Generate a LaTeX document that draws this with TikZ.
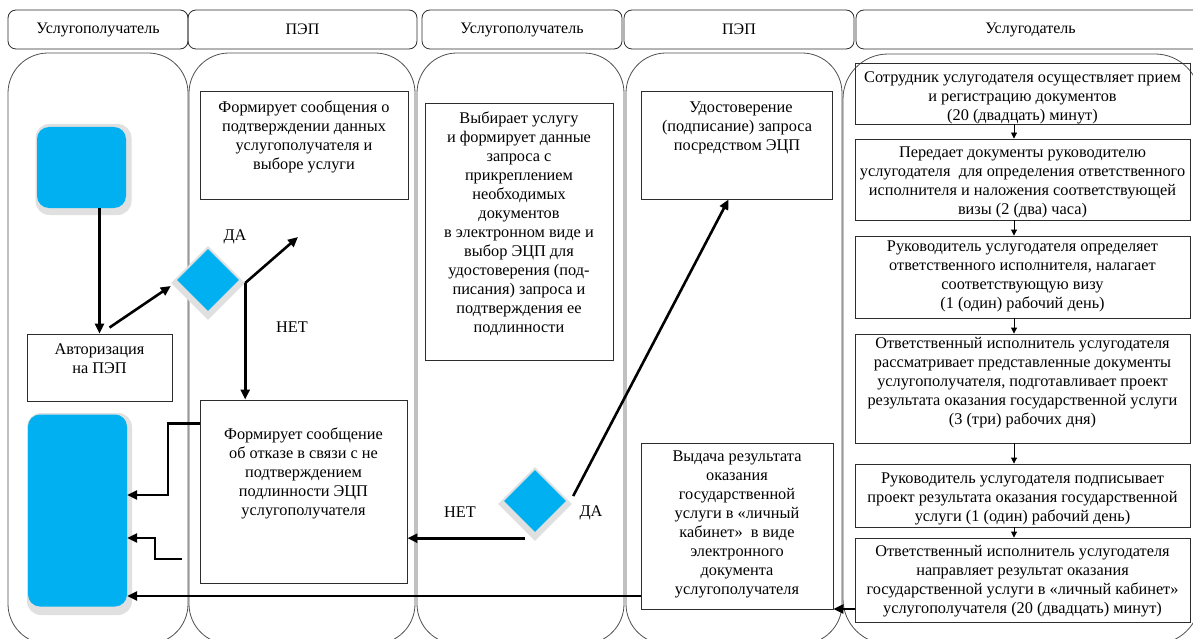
\documentclass[tikz,border=0pt]{standalone}
\usepackage{fontspec}
\setmainfont{Liberation Serif}
\usetikzlibrary{arrows.meta,shapes.geometric}
\definecolor{bluefill}{RGB}{0,176,240}
\definecolor{rimgray}{RGB}{224,224,224}
\definecolor{lanegray}{RGB}{80,80,80}
\definecolor{boxgray}{RGB}{45,45,45}
\tikzset{
  txt/.style={inner sep=0pt, align=center, font=\fontsize{16.3}{19}\selectfont},
  hdr/.style={draw=boxgray, line width=0.8pt, rounded corners=8pt, inner sep=0pt, font=\fontsize{16}{19}\selectfont},
  lane/.style={draw=lanegray, line width=0.8pt, rounded corners=40pt},
  box/.style={draw=boxgray, line width=0.9pt, inner sep=0pt},
  blueblk/.style={fill=bluefill, rounded corners=12pt, inner sep=0pt},
  rimblk/.style={fill=rimgray, rounded corners=14pt, inner sep=0pt},
  dia/.style={diamond, aspect=1, inner sep=0pt},
  thk/.style={line width=2.6pt, -{Triangle[length=10pt,width=9pt]}},
  thn/.style={line width=0.9pt, -{Triangle[length=6pt,width=6pt]}}
}
\begin{document}
\begin{tikzpicture}[x=1pt,y=-1pt]
\useasboundingbox (0,0) rectangle (1193,639);
\clip (0,0) rectangle (1193,639);
\fill[white] (0,0) rectangle (1193,639);

% headers
\node[hdr, minimum width=180pt, minimum height=39pt] (h1) at (98,29.5) {Услугополучатель};
\node[hdr, minimum width=229pt, minimum height=39pt] (h2) at (302.5,29.5) {ПЭП};
\node[hdr, minimum width=200pt, minimum height=39pt] (h3) at (522,29.5) {Услугополучатель};
\node[hdr, minimum width=230pt, minimum height=39pt] (h4) at (739,29.5) {ПЭП};
\node[hdr, minimum width=349pt, minimum height=39pt] (h5) at (1030.5,29.5) {Услугодатель};

% lanes
\draw[lane] (8,53) rectangle (188,644);
\draw[lane] (189,53) rectangle (415,644);
\draw[lane] (417,53) rectangle (624,644);
\draw[lane] (626,53) rectangle (842,644);
\draw[lane, rounded corners=45pt] (843,54) rectangle (1200,644);

% blue terminators
\node[rimblk, minimum width=96pt, minimum height=91pt] (starts) at (83.5,169.5) {};
\node[blueblk, minimum width=89pt, minimum height=81pt] (start) at (81.5,167.5) {};
\node[rimblk, minimum width=105pt, minimum height=202pt] (ends) at (79.5,514) {};
\node[blueblk, minimum width=99pt, minimum height=192pt] (end) at (77.5,510.5) {};

% diamonds
\node[dia, fill=rimgray, minimum size=74pt] (d1s) at (208,283) {};
\node[dia, fill=bluefill, minimum size=62pt] (d1) at (208,280) {};
\node[dia, fill=rimgray, minimum size=74pt] (d2s) at (535,504) {};
\node[dia, fill=bluefill, minimum size=62pt] (d2) at (535,501) {};

% boxes
\node[box, minimum width=145pt, minimum height=67pt] (auth) at (99.5,367.5) {};
\node[box, minimum width=208pt, minimum height=108pt] (b2) at (304,145) {};
\node[box, minimum width=207pt, minimum height=183pt] (b3) at (303.5,491.5) {};
\node[box, minimum width=188pt, minimum height=257pt] (b4) at (519,231.5) {};
\node[box, minimum width=191pt, minimum height=108pt] (b5) at (736.5,145) {};
\node[box, minimum width=192pt, minimum height=166pt] (b6) at (737,526) {};
\node[box, minimum width=335pt, minimum height=61pt] (r1) at (1022.5,93.5) {};
\node[box, minimum width=335pt, minimum height=81pt] (r2) at (1022.5,179.5) {};
\node[box, minimum width=335pt, minimum height=82pt] (r3) at (1022.5,277) {};
\node[box, minimum width=335pt, minimum height=109pt] (r4) at (1022.5,388.5) {};
\node[box, minimum width=335pt, minimum height=63pt] (r5) at (1022.5,495.5) {};
\node[box, minimum width=335pt, minimum height=84pt] (r6) at (1022.5,580) {};

% texts
\node[txt] (tauth) at (99.5,359) {Авторизация\\на ПЭП};
\node[txt] (t2) at (304,136.5) {Формирует сообщения о\\подтверждении данных\\услугополучателя и\\выборе услуги};
\node[txt] (t3) at (303.5,473) {Формирует сообщение\\об отказе в связи с не\\подтверждением\\подлинности ЭЦП\\услугополучателя};
\node[txt] (t4) at (519,223.5) {Выбирает услугу\\и формирует данные\\запроса с\\прикреплением\\необходимых\\документов\\в электронном виде и\\выбор ЭЦП для\\удостоверения (под-\\писания) запроса и\\подтверждения ее\\подлинности};
\node[txt] (t5) at (737,127.5) {\hspace{8pt}Удостоверение\\(подписание) запроса\\посредством ЭЦП};
\node[txt] (t6) at (737,524.5) {Выдача результата\\оказания\\государственной\\услуги в «личный\\кабинет»\ \ в виде\\электронного\\документа\\услугополучателя};
\node[txt] (tr1) at (1022.5,97.5) {Сотрудник услугодателя осуществляет прием\\и регистрацию документов\\(20 (двадцать) минут)};
\node[txt] (tr2) at (1022.5,182) {Передает документы руководителю\\услугодателя\ \ для определения ответственного\\исполнителя и наложения соответствующей\\визы (2 (два) часа)};
\node[txt] (tr3) at (1022.5,276) {Руководитель услугодателя определяет\\ответственного исполнителя, налагает\\соответствующую визу\\(1 (один) рабочий день)};
\node[txt] (tr4) at (1022.5,383) {Ответственный исполнитель услугодателя\\рассматривает представленные документы\\услугополучателя, подготавливает проект\\результата оказания государственной услуги\\(3 (три) рабочих дня)};
\node[txt] (tr5) at (1022.5,499) {Руководитель услугодателя подписывает\\проект результата оказания государственной\\услуги (1 (один) рабочий день)};
\node[txt] (tr6) at (1022.5,581.5) {Ответственный исполнитель услугодателя\\направляет результат оказания\\государственной услуги в «личный кабинет»\\услугополучателя (20 (двадцать) минут)};

% labels
\node[txt] (yes1) at (235,237) {ДА};
\node[txt] (no1) at (292,327) {НЕТ};
\node[txt] (no2) at (460,512) {НЕТ};
\node[txt] (yes2) at (591,513) {ДА};

% helper coordinates
\coordinate (yesend1) at (298,237);
\coordinate (p5) at (168,495);
\coordinate (free6) at (182,559);
\coordinate (p6) at (155,538);
\coordinate (row7) at (0,596);
\coordinate (row10) at (0,609);
\coordinate (d2out) at ([xshift=-10pt,yshift=3pt]d2s.south);
\coordinate (d2up) at ([xshift=1pt,yshift=8pt]d2s.east);
\coordinate (axis) at (1014,0);

% thick connectors
\draw[thk] (start.south -| auth.north) -- (auth.north);
\draw[thk] ([xshift=10pt,yshift=6pt]auth.north) -- ([yshift=-3pt]d1s.west);
\draw[thk] (d1s.east) -- (yesend1);
\draw[thk] (d1s.east) -- (d1s.east |- b3.north);
\draw[thk] ([yshift=-24pt]b3.north west) -| (p5) -- (end.east |- p5);
\draw[thk] (free6) -| (p6) -- (end.east |- p6);
\draw[thk] (b6.west |- row7) -- (end.east |- row7);
\draw[thk] (d2out) -- (d2out -| b3.east);
\draw[thk] (d2up) -- ([xshift=-8pt]b5.south);
\draw[thk] (r6.west |- row10) -- (b6.east |- row10);

% thin connectors right column
\draw[thn] (r1.south -| axis) -- (r2.north -| axis);
\draw[thn] (r2.south -| axis) -- (r3.north -| axis);
\draw[thn] (r3.south -| axis) -- (r4.north -| axis);
\draw[thn] (r4.south -| axis) -- (r5.north -| axis);
\draw[thn] (r5.south -| axis) -- (r6.north -| axis);
\end{tikzpicture}
\end{document}
